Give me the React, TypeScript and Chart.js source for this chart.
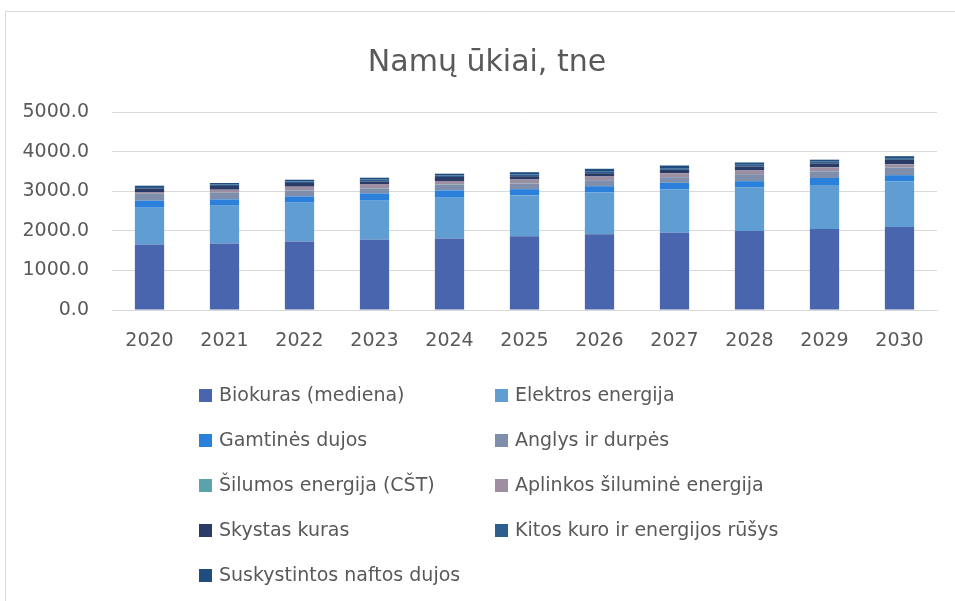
import React, { useEffect, useRef } from "react";
import { Chart, registerables } from "chart.js";

Chart.register(...registerables);

const years = ["2020", "2021", "2022", "2023", "2024", "2025", "2026", "2027", "2028", "2029", "2030"];

const biokuras = [1657, 1682, 1732, 1775, 1808, 1864, 1914, 1949, 1995, 2045, 2096];
const elektros = [926, 952, 978, 985, 1028, 1035, 1053, 1094, 1103, 1111, 1149];
const gamtines = [177, 159, 159, 184, 184, 152, 159, 169, 155, 177, 159];
const anglys = [169, 162, 151, 127, 144, 143, 152, 142, 177, 168, 186];
const silumos = [5, 5, 5, 5, 5, 5, 5, 5, 5, 5, 5];
const aplinkos = [46, 78, 89, 105, 88, 96, 88, 96, 88, 96, 87];
const skystas = [91, 93, 93, 67, 101, 84, 84, 85, 101, 101, 111];
const kitos = [35, 41, 41, 45, 42, 43, 50, 41, 45, 45, 41];
const suskystintos = [33, 35, 42, 48, 42, 58, 61, 68, 56, 48, 50];

const yTicks = [0, 1000, 2000, 3000, 4000, 5000];

const seriesNames = [
  "Biokuras (mediena)",
  "Elektros energija",
  "Gamtinės dujos",
  "Anglys ir durpės",
  "Šilumos energija (CŠT)",
  "Aplinkos šiluminė energija",
  "Skystas kuras",
  "Kitos kuro ir energijos rūšys",
  "Suskystintos naftos dujos",
];
const seriesValues = [biokuras, elektros, gamtines, anglys, silumos, aplinkos, skystas, kitos, suskystintos];
const seriesColors = [
  "#4965AD",
  "#5F9DD2",
  "#2A80DA",
  "#7F8FAB",
  "#5AA3AD",
  "#9D8FA1",
  "#2B3B68",
  "#2C5F8E",
  "#1F4D7F",
];

const FONT = "'DejaVu Sans'";
const TEXT = "#595959";

const decorPlugin = {
  id: "decor",
  beforeDraw(chart: any) {
    const ctx = chart.ctx;
    ctx.save();
    ctx.fillStyle = "#ffffff";
    ctx.fillRect(0, 0, chart.width, chart.height);
    ctx.strokeStyle = "#D9D9D9";
    ctx.lineWidth = 1;
    ctx.beginPath();
    ctx.moveTo(5.5, chart.height);
    ctx.lineTo(5.5, 11.5);
    ctx.lineTo(chart.width, 11.5);
    ctx.stroke();
    ctx.restore();
  },
  afterDraw(chart: any) {
    const ctx = chart.ctx;
    ctx.save();
    // title
    ctx.fillStyle = TEXT;
    ctx.font = `30px ${FONT}`;
    ctx.textAlign = "center";
    ctx.textBaseline = "alphabetic";
    ctx.fillText("Namų ūkiai, tne", 487, 71);
    // legend
    ctx.font = `19px ${FONT}`;
    ctx.textAlign = "left";
    ctx.textBaseline = "middle";
    const colBox = [199, 495];
    const colText = [219, 515];
    const rowY = [395, 440, 485, 530, 575];
    chart.data.datasets.forEach((ds: any, i: number) => {
      const col = i % 2;
      const row = Math.floor(i / 2);
      const y = rowY[row];
      ctx.fillStyle = ds.backgroundColor;
      ctx.fillRect(colBox[col], y - 6, 13, 13);
      ctx.fillStyle = TEXT;
      ctx.fillText(ds.label, colText[col], y + 1);
    });
    ctx.restore();
  },
};

export default function App() {
  const ref = useRef<HTMLCanvasElement | null>(null);
  useEffect(() => {
    if (!ref.current) return;
    const chart = new Chart(ref.current, {
      type: "bar",
      data: {
        labels: years,
        datasets: seriesNames.map((name, i) => ({
          label: name,
          data: seriesValues[i],
          backgroundColor: seriesColors[i],
          borderWidth: 0,
          categoryPercentage: 1,
          barPercentage: 0.39,
        })),
      },
      options: {
        responsive: false,
        animation: false,
        layout: { padding: { left: 0, top: 112, right: 18, bottom: 0 } },
        plugins: {
          legend: { display: false },
          title: { display: false },
          tooltip: { enabled: false },
        },
        scales: {
          x: {
            stacked: true,
            grid: { display: false, drawTicks: false },
            border: { display: true, color: "#D9D9D9", width: 1 },
            ticks: { color: TEXT, font: { family: FONT, size: 19 }, padding: 20 },
            afterFit: (s: any) => {
              s.height = 291;
            },
          },
          y: {
            stacked: true,
            min: 0,
            max: 5000,
            afterBuildTicks: (s: any) => {
              s.ticks = yTicks.map((v) => ({ value: v }));
            },
            grid: { color: "#D9D9D9", lineWidth: 1, drawTicks: false },
            border: { display: false },
            ticks: {
              color: TEXT,
              font: { family: FONT, size: 19 },
              padding: 23,
              callback: (v: any) => Number(v).toFixed(1),
            },
            afterFit: (s: any) => {
              s.width = 112;
            },
          },
        },
      },
      plugins: [decorPlugin],
    });
    return () => chart.destroy();
  }, []);
  return (
    <div style={{ position: "absolute", left: 0, top: 0, width: 955, height: 601 }}>
      <canvas ref={ref} width={955} height={601} />
    </div>
  );
}
